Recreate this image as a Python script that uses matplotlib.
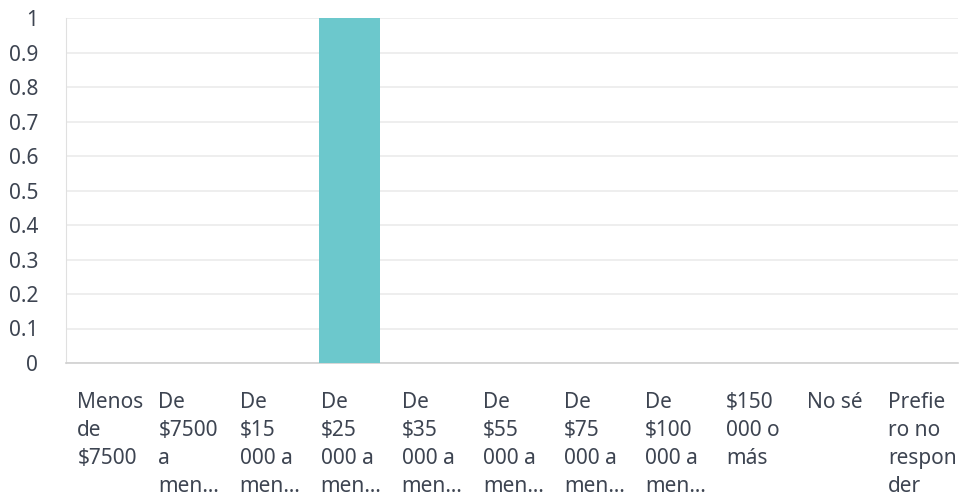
import matplotlib.pyplot as plt
from matplotlib.ticker import FuncFormatter

# categories as shown (wrapped / truncated like the source chart)
categories = [
    "Menos\nde\n$7500",
    "De\n$7500\na\nmen\u2026",
    "De\n$15\n000 a\nmen\u2026",
    "De\n$25\n000 a\nmen\u2026",
    "De\n$35\n000 a\nmen\u2026",
    "De\n$55\n000 a\nmen\u2026",
    "De\n$75\n000 a\nmen\u2026",
    "De\n$100\n000 a\nmen\u2026",
    "$150\n000 o\nmás",
    "No sé",
    "Prefie\nro no\nrespon\nder",
]
values = [0, 0, 0, 1, 0, 0, 0, 0, 0, 0, 0]
y_ticks = [0, 0.1, 0.2, 0.3, 0.4, 0.5, 0.6, 0.7, 0.8, 0.9, 1]

text_color = '#3d4451'
bar_color = '#6cc8cc'
grid_color = '#ebebeb'

plt.rcParams['font.family'] = ['Noto Sans', 'DejaVu Sans']

fig = plt.figure(figsize=(9.59, 4.98), dpi=100)
ax = fig.add_axes([66 / 959, 1 - 363 / 498, (958 - 66) / 959, (363 - 18) / 498])

x = list(range(len(categories)))
ax.bar(x, values, width=0.75, color=bar_color, zorder=3)

ax.set_xlim(-0.5, len(categories) - 0.5)
ax.set_ylim(0, 1)
ax.set_yticks(y_ticks)
ax.yaxis.set_major_formatter(FuncFormatter(lambda v, p: f"{v:g}"))
ax.tick_params(axis='y', length=0, pad=20, labelsize=15, labelcolor=text_color)
ax.set_xticks([])

ax.grid(axis='y', color=grid_color, linewidth=1.2, zorder=0)
for s in ['top', 'right']:
    ax.spines[s].set_visible(False)
ax.spines['left'].set_color('#e0e0e0')
ax.spines['bottom'].set_color('#d0d0d0')
ax.spines['bottom'].set_linewidth(1.2)

# left-aligned wrapped category labels below the axis
for xi, lab in zip(x, categories):
    ax.text(xi - 0.36, -0.085, lab, transform=ax.get_xaxis_transform(),
            ha='left', va='top', fontsize=15, color=text_color,
            linespacing=1.44)

fig.savefig('out.png', dpi=100, facecolor='white')
